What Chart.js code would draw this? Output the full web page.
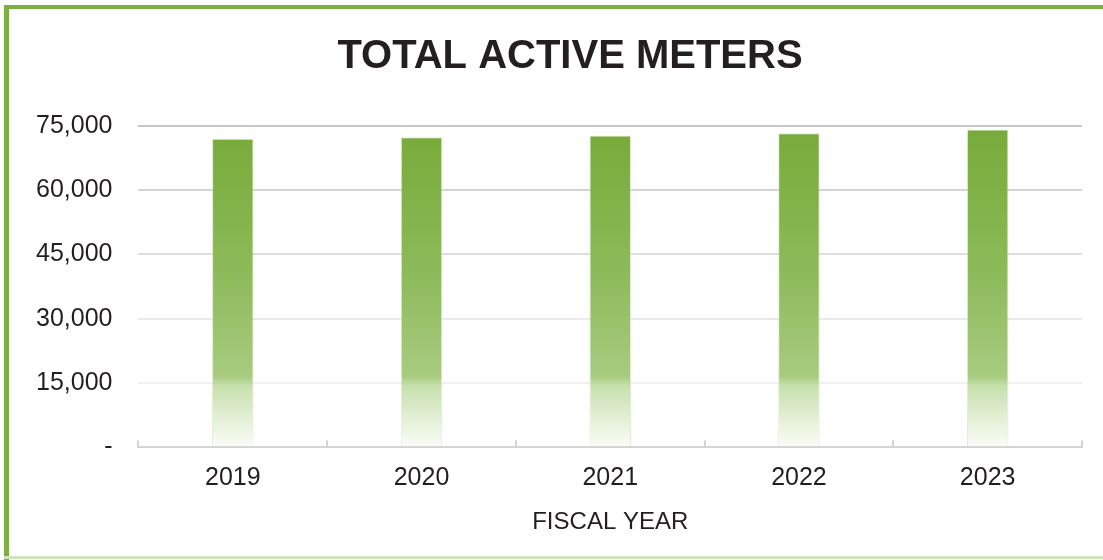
<!DOCTYPE html>
<html lang="en">
<head>
  <meta charset="UTF-8">
  <title>Total Active Meters</title>
  <script src="https://cdn.jsdelivr.net/npm/chart.js"></script>
  <style>
    body {
      margin: 0;
      background: #ffffff;
    }
    .frame {
      position: relative;
      width: 1103px;
      height: 560px;
      overflow: hidden;
    }
    .frame canvas {
      position: absolute;
      left: 0;
      top: 0;
    }
    .edge {
      position: absolute;
      pointer-events: none;
    }
    .edge-left   { left: 4px; top: 5px; width: 5px; height: 560px; background: #7bb043; }
    .edge-top    { left: 4px; top: 5px; width: 1110px; height: 4px; background: #7bb043; }
    .edge-bottom { left: 4px; top: 556px; width: 1110px; height: 3px; background: #cfe3bd; }
  </style>
</head>
<body>
  <div class="frame">
    <canvas id="metersChart" width="1103" height="560"></canvas>
    <div class="edge edge-left"></div>
    <div class="edge edge-top"></div>
    <div class="edge edge-bottom"></div>
  </div>

  <script>
    // data
    const years = ['2019', '2020', '2021', '2022', '2023'];
    const activeMeters = [72000, 72400, 72800, 73300, 74200];
    const yTicks = [0, 15000, 30000, 45000, 60000, 75000];

    // gridlines fade out toward the bottom
    const gridColors = ['rgba(0,0,0,0)', '#f1f1f1', '#eaeaea', '#dedede', '#d3d3d3', '#c6c6ca'];

    function barGradient(context) {
      const area = context.chart.chartArea;
      if (!area) return '#7aad3d';
      const g = context.chart.ctx.createLinearGradient(0, area.top, 0, area.bottom);
      g.addColorStop(0, '#77aa39');
      g.addColorStop(0.45, '#8cba59');
      g.addColorStop(0.78, '#a8cb7f');
      g.addColorStop(0.81, '#c8e0ae');
      g.addColorStop(1, '#fbfdf8');
      return g;
    }

    // small upward tick marks between categories on the x axis
    const categoryTicks = {
      id: 'categoryTicks',
      afterDraw(chart) {
        const { ctx, chartArea } = chart;
        const n = years.length;
        const step = (chartArea.right - chartArea.left) / n;
        ctx.save();
        ctx.strokeStyle = '#d4d4d6';
        ctx.lineWidth = 2;
        for (let i = 0; i <= n; i++) {
          const x = Math.round(chartArea.left + i * step);
          ctx.beginPath();
          ctx.moveTo(x, chartArea.bottom);
          ctx.lineTo(x, chartArea.bottom - 7);
          ctx.stroke();
        }
        ctx.restore();
      }
    };

    Chart.defaults.font.family = "Arial, 'Liberation Sans', sans-serif";
    Chart.defaults.color = '#231f20';

    new Chart(document.getElementById('metersChart'), {
      type: 'bar',
      data: {
        labels: years,
        datasets: [{
          label: 'Total active meters',
          data: activeMeters,
          backgroundColor: barGradient,
          borderColor: 'rgba(200,225,170,0.6)',
          borderWidth: { left: 1, right: 1, top: 1, bottom: 0 },
          borderSkipped: false,
          barPercentage: 0.22,
          categoryPercentage: 1
        }]
      },
      options: {
        responsive: false,
        animation: false,
        // negative right padding + an empty right axis pushes the title
        // centre to the right, as in the original, without moving the plot
        layout: { padding: { left: 10, right: -27, top: 0, bottom: 23 } },
        plugins: {
          legend: { display: false },
          tooltip: { enabled: false },
          title: {
            display: true,
            text: 'TOTAL ACTIVE METERS',
            font: { size: 40, weight: 'bold' },
            color: '#231f20',
            padding: { top: 33, bottom: 45 }
          }
        },
        scales: {
          x: {
            grid: { display: false },
            border: { display: true, color: '#d4d4d6', width: 2 },
            ticks: { font: { size: 25 }, padding: 8 },
            title: {
              display: true,
              text: 'FISCAL YEAR',
              font: { size: 24 },
              padding: { top: 7, bottom: 0 }
            }
          },
          y: {
            min: 0,
            max: 75000,
            afterBuildTicks(scale) {
              scale.ticks = yTicks.map(v => ({ value: v }));
            },
            grid: {
              drawTicks: false,
              lineWidth: 2,
              color: ctx => gridColors[ctx.index] || '#e0e0e0'
            },
            border: { display: false },
            ticks: {
              font: { size: 25 },
              padding: 26,
              callback: v => v === 0 ? '-' : v.toLocaleString('en-US')
            }
          },
          spacer: {
            type: 'linear',
            position: 'right',
            display: true,
            grid: { display: false },
            border: { display: false },
            ticks: { display: false },
            afterFit(scale) {
              scale.width = 48;
            }
          }
        }
      },
      plugins: [categoryTicks]
    });
  </script>
</body>
</html>
